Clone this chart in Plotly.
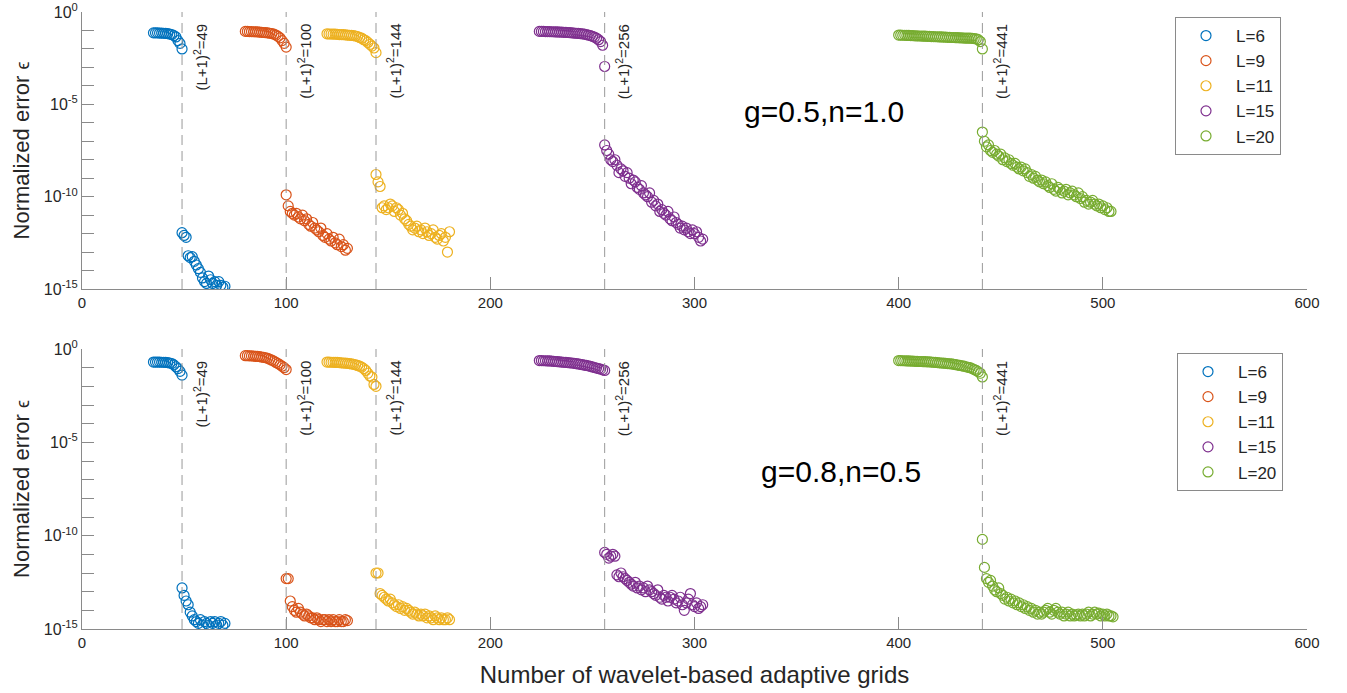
import plotly.graph_objects as go

# ---------------- data (log10 of normalized error) ----------------
LABELS = ["L=6", "L=9", "L=11", "L=15", "L=20"]
COLORS = ["#0072BD", "#D95319", "#EDB120", "#7E2F8E", "#77AC30"]
THRESH = [49, 100, 144, 256, 441]          # (L+1)^2
UP_END = [49, 100, 144, 256, 441]          # last x of the upper group
LO_START = [49, 100, 144, 256, 441]        # first x of the lower group

# ----- panel 1 : g=0.5, n=1.0 -----
top_L6_up = [-1.13, -1.13, -1.13, -1.14, -1.14, -1.15, -1.16, -1.17, -1.2, -1.22, -1.28, -1.35, -1.55, -1.7, -2.0]
top_L6_lo = [-11.95, -12.1, -12.2, -13.2, -13.3, -13.25, -13.5, -13.7, -13.9, -14.1, -14.4, -14.6, -14.7, -14.3,
             -14.5, -14.7, -14.6, -14.8, -14.6, -14.8, -14.9, -14.85]
top_L9_up = [-1.05, -1.05, -1.06, -1.06, -1.07, -1.07, -1.08, -1.09, -1.1, -1.11, -1.12, -1.13, -1.15, -1.17,
             -1.2, -1.25, -1.32, -1.4, -1.55, -1.7, -1.9]
top_L9_lo = [-9.9, -10.5, -10.8, -10.9, -11.0, -10.9, -11.1, -11.2, -11.0, -11.3, -11.2, -11.5, -11.6, -11.4,
             -11.7, -11.8, -11.9, -11.7, -12.1, -12.2, -12.0, -12.3, -12.4, -12.2, -12.5, -12.6, -12.3, -12.7,
             -12.6, -12.9, -12.8]
top_L11_up = [-1.18, -1.19, -1.19, -1.2, -1.2, -1.21, -1.22, -1.22, -1.23, -1.24, -1.25, -1.26, -1.27, -1.28,
              -1.3, -1.33, -1.38, -1.42, -1.5, -1.55, -1.65, -1.75, -1.85, -1.95, -2.2]
top_L11_lo = [-8.8, -9.2, -9.45, -10.6, -10.5, -10.7, -10.6, -10.4, -10.5, -10.8, -10.6, -10.7, -11.0, -10.9,
              -11.2, -11.3, -11.5, -11.6, -11.8, -11.7, -11.6, -11.9, -11.8, -12.0, -11.7, -11.9, -12.1, -12.0,
              -11.8, -12.2, -12.3, -12.1, -12.0, -12.4, -12.2, -13.0, -11.9]
top_L15_up = [-1.05, -1.05, -1.05, -1.06, -1.06, -1.06, -1.07, -1.07, -1.08, -1.08, -1.09, -1.09, -1.1, -1.1,
              -1.11, -1.12, -1.13, -1.14, -1.15, -1.16, -1.17, -1.18, -1.2, -1.22, -1.25, -1.28, -1.32, -1.36,
              -1.42, -1.5, -1.6, -1.8, -2.95]
top_L15_lo = [-7.2, -7.5, -7.7, -8.0, -8.1, -8.0, -8.3, -8.7, -8.5, -8.6, -8.9, -8.7, -9.0, -9.3, -9.1, -9.2,
              -9.5, -9.6, -9.4, -9.8, -9.9, -10.0, -9.8, -10.3, -10.2, -10.5, -10.4, -10.8, -10.7, -10.9, -11.0,
              -10.8, -11.2, -11.3, -11.1, -11.4, -11.5, -11.7, -11.6, -11.8, -11.7, -11.9, -12.0, -11.8, -12.0,
              -11.9, -12.2, -12.4, -12.3]
top_L20_up = [-1.25, -1.25, -1.26, -1.26, -1.27, -1.27, -1.28, -1.28, -1.29, -1.29, -1.3, -1.3, -1.31, -1.31,
              -1.32, -1.32, -1.33, -1.33, -1.34, -1.34, -1.35, -1.35, -1.36, -1.36, -1.37, -1.37, -1.38, -1.38,
              -1.39, -1.39, -1.4, -1.4, -1.41, -1.41, -1.42, -1.42, -1.43, -1.44, -1.45, -1.5, -1.6, -2.0]
top_L20_lo = [-6.5, -7.0, -7.3, -7.2, -7.5, -7.6, -7.5, -7.7, -7.8, -7.7, -8.0, -7.9, -8.1, -8.0, -8.2, -8.3,
              -8.2, -8.4, -8.5, -8.4, -8.6, -8.5, -8.7, -8.9, -8.8, -9.0, -8.9, -9.1, -9.2, -9.1, -9.3, -9.2,
              -9.4, -9.5, -9.3, -9.6, -9.7, -9.5, -9.6, -9.8, -9.7, -9.6, -9.9, -9.8, -9.7, -9.9, -10.0, -9.8,
              -10.1, -10.0, -10.3, -10.2, -10.4, -10.3, -10.2, -10.4, -10.5, -10.4, -10.6, -10.5, -10.7, -10.6,
              -10.8, -10.8]

# ----- panel 2 : g=0.8, n=0.5 -----
bot_L6_up = [-0.7, -0.7, -0.7, -0.7, -0.71, -0.71, -0.72, -0.73, -0.75, -0.78, -0.85, -0.95, -1.05, -1.2, -1.4]
bot_L6_lo = [-12.8, -13.2, -13.5, -13.7, -14.1, -14.3, -14.5, -14.6, -14.7, -14.5, -14.8, -14.6, -14.7, -14.8,
             -14.6, -14.7, -14.6, -14.8, -14.7, -14.6, -14.8, -14.7]
bot_L9_up = [-0.36, -0.36, -0.37, -0.37, -0.38, -0.39, -0.4, -0.41, -0.43, -0.45, -0.47, -0.5, -0.55, -0.6,
             -0.65, -0.72, -0.78, -0.85, -0.92, -1.0, -1.1]
bot_L9_lo = [-12.3, -12.3, -13.5, -13.8, -14.0, -14.1, -13.9, -14.1, -14.2, -14.3, -14.2, -14.3, -14.4, -14.4,
             -14.5, -14.4, -14.5, -14.6, -14.5, -14.5, -14.6, -14.5, -14.6, -14.5, -14.6, -14.6, -14.5, -14.6,
             -14.6, -14.5, -14.55]
bot_L11_up = [-0.7, -0.7, -0.71, -0.71, -0.72, -0.72, -0.73, -0.74, -0.75, -0.76, -0.77, -0.78, -0.8, -0.82,
              -0.85, -0.88, -0.92, -0.97, -1.05, -1.15, -1.3, -1.45, -1.5, -1.9, -2.0]
bot_L11_lo = [-12.0, -12.0, -13.1, -13.2, -13.3, -13.4, -13.5, -13.4, -13.6, -13.7, -13.8, -13.7, -13.9, -13.8,
              -14.0, -13.9, -14.0, -14.1, -14.2, -14.1, -14.2, -14.3, -14.2, -14.3, -14.2, -14.4, -14.3, -14.4,
              -14.5, -14.3, -14.4, -14.5, -14.4, -14.5, -14.5, -14.4, -14.5]
bot_L15_up = [-0.62, -0.62, -0.63, -0.63, -0.64, -0.64, -0.65, -0.66, -0.67, -0.68, -0.69, -0.7, -0.71, -0.72,
              -0.73, -0.74, -0.75, -0.77, -0.78, -0.8, -0.82, -0.84, -0.86, -0.88, -0.9, -0.93, -0.96, -0.99,
              -1.02, -1.05, -1.08, -1.12, -1.15]
bot_L15_lo = [-10.9, -11.0, -11.2, -11.1, -11.0, -11.1, -12.1, -12.2, -12.0, -12.2, -12.3, -12.4, -12.5, -12.6,
              -12.7, -12.5, -12.8, -12.7, -12.9, -12.8, -13.0, -12.7, -12.9, -13.0, -13.1, -13.2, -12.9, -13.3,
              -13.4, -13.2, -13.3, -13.5, -13.3, -13.2, -13.4, -13.6, -13.5, -13.3, -13.7, -14.0, -13.6, -13.4,
              -13.1, -13.7, -13.8, -13.6, -13.9, -13.8, -13.7]
bot_L20_up = [-0.62, -0.62, -0.63, -0.63, -0.64, -0.64, -0.65, -0.65, -0.66, -0.66, -0.67, -0.67, -0.68, -0.68,
              -0.69, -0.69, -0.7, -0.71, -0.72, -0.73, -0.74, -0.75, -0.76, -0.77, -0.78, -0.79, -0.8, -0.82,
              -0.84, -0.86, -0.88, -0.9, -0.92, -0.95, -0.98, -1.0, -1.05, -1.1, -1.15, -1.22, -1.3, -1.5]
bot_L20_lo = [-10.2, -11.7, -12.3, -12.5, -12.4, -12.7, -12.9, -13.0, -12.8, -13.1, -13.2, -13.4, -13.3, -13.5,
              -13.4, -13.6, -13.5, -13.7, -13.6, -13.8, -13.7, -13.9, -13.8, -14.0, -13.9, -14.1, -14.0, -14.2,
              -14.1, -14.2, -14.1, -14.0, -13.9, -14.1, -14.2, -14.0, -13.9, -14.1, -14.2, -14.1, -14.3, -14.2,
              -14.1, -14.3, -14.2, -14.3, -14.25, -14.2, -14.3, -14.2, -14.3, -14.2, -14.1, -14.3, -14.2, -14.1,
              -14.2, -14.15, -14.3, -14.2, -14.3, -14.2, -14.3, -14.3, -14.35]

TOP_UP = [top_L6_up, top_L9_up, top_L11_up, top_L15_up, top_L20_up]
TOP_LO = [top_L6_lo, top_L9_lo, top_L11_lo, top_L15_lo, top_L20_lo]
BOT_UP = [bot_L6_up, bot_L9_up, bot_L11_up, bot_L15_up, bot_L20_up]
BOT_LO = [bot_L6_lo, bot_L9_lo, bot_L11_lo, bot_L15_lo, bot_L20_lo]

PANEL_TEXT = ["g=0.5,n=1.0", "g=0.8,n=0.5"]
Y_TICK_EXP = list(range(0, -16, -1))
Y_LABELED = [0, -5, -10, -15]
X_TICKS = [0, 100, 200, 300, 400, 500, 600]

# ---------------- figure ----------------
W, H = 1347, 693
FONT = "Liberation Sans, Arial, Helvetica, sans-serif"
TXT = "#262626"
AX = "#8a8a8a"

fig = go.Figure()

panels = [("x", "y", "legend", TOP_UP, TOP_LO), ("x2", "y2", "legend2", BOT_UP, BOT_LO)]
for xa, ya, lg, ups, los in panels:
    for i in range(5):
        up = ups[i]
        lo = los[i]
        xs = list(range(UP_END[i] - len(up) + 1, UP_END[i] + 1)) + list(range(LO_START[i], LO_START[i] + len(lo)))
        ys = [10 ** v for v in up + lo]
        fig.add_trace(go.Scatter(
            x=xs, y=ys, mode="markers", name=LABELS[i], xaxis=xa, yaxis=ya, legend=lg,
            marker=dict(symbol="circle-open", size=10, color=COLORS[i], line=dict(width=1.2, color=COLORS[i])),
        ))

def px_x(p):
    return p / W

def px_y(p):
    return 1 - p / H

xdom = [px_x(82), px_x(1307)]
top_dom = [px_y(289), px_y(12)]
bot_dom = [px_y(629), px_y(349)]

yticktext = ["10<sup>%d</sup>" % e if e in Y_LABELED else "" for e in Y_TICK_EXP]
ytickvals = [10.0 ** e for e in Y_TICK_EXP]

common_x = dict(range=[0, 600], tickvals=X_TICKS, ticks="inside", ticklen=12, tickcolor=AX,
                showline=True, linecolor=AX, linewidth=1, showgrid=False, zeroline=False, automargin=False,
                tickfont=dict(size=15, color=TXT, family=FONT), mirror=False)
common_y = dict(type="log", range=[-15, 0], tickvals=ytickvals, ticktext=yticktext, ticks="inside",
                ticklen=12, tickcolor=AX, showline=True, linecolor=AX, linewidth=1, showgrid=False,
                zeroline=False, automargin=False, tickfont=dict(size=16, color=TXT, family=FONT),
                title=dict(text="Normalized error <span style='font-size:18px'>\u03f5</span>",
                           font=dict(size=22, color=TXT, family=FONT), standoff=8))

LEG = dict(xanchor="left", yanchor="top", bgcolor="white", bordercolor=AX, borderwidth=1,
           font=dict(size=17, color=TXT, family=FONT), tracegroupgap=0, itemwidth=50)

fig.update_layout(
    width=W, height=H, margin=dict(l=0, r=0, t=0, b=0, autoexpand=False),
    paper_bgcolor="white", plot_bgcolor="white",
    xaxis=dict(domain=xdom, anchor="y", **common_x),
    yaxis=dict(domain=top_dom, anchor="x", **common_y),
    xaxis2=dict(domain=xdom, anchor="y2", title=dict(text="Number of wavelet-based adaptive grids",
                font=dict(size=24, color=TXT, family=FONT), standoff=16), **common_x),
    yaxis2=dict(domain=bot_dom, anchor="x2", **common_y),
    font=dict(family=FONT, color=TXT),
    legend=dict(x=px_x(1175), y=px_y(17), **LEG),
    legend2=dict(x=px_x(1177), y=px_y(353), **LEG),
    showlegend=True,
)

shapes = []
annotations = []
for (xa, ya), top_px, ptxt, tcx, tcy in [(("x", "y"), 12, PANEL_TEXT[0], 824, 111),
                                          (("x2", "y2"), 349, PANEL_TEXT[1], 841, 471)]:
    for t in THRESH:
        shapes.append(dict(type="line", xref=xa, yref=ya + " domain", x0=t, x1=t, y0=0, y1=1,
                           line=dict(color="#999999", width=1, dash="10px,6px")))
        cy = top_px + (45.5 if t < 100 else 49.5)
        annotations.append(dict(x=t, xref=xa, y=px_y(cy), yref="paper", xshift=18,
                                text="(L+1)<sup>2</sup>=%d" % t, textangle=-90, showarrow=False,
                                xanchor="center", yanchor="middle",
                                font=dict(size=15, color=TXT, family=FONT)))
    annotations.append(dict(x=px_x(tcx), y=px_y(tcy), xref="paper", yref="paper", text=ptxt,
                            showarrow=False, xanchor="center", yanchor="middle",
                            font=dict(size=30, color="black", family=FONT)))

fig.update_layout(shapes=shapes, annotations=annotations)
fig.write_html("out.html")
